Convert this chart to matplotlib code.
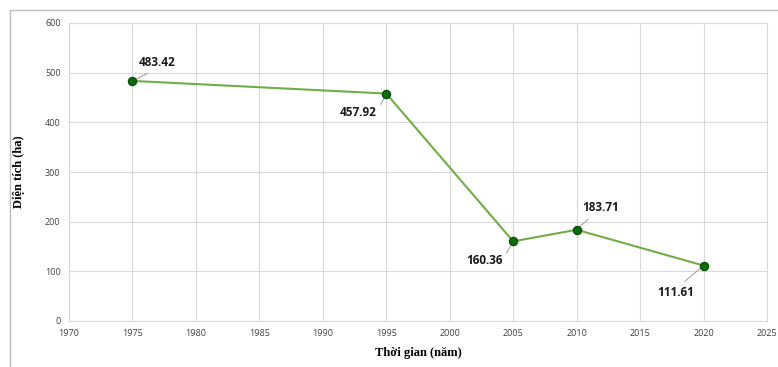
import matplotlib
matplotlib.use("Agg")
import matplotlib.pyplot as plt
from matplotlib.patches import Rectangle

years = [1975, 1995, 2005, 2010, 2020]
areas = [483.42, 457.92, 160.36, 183.71, 111.61]
labels = ["483.42", "457.92", "160.36", "183.71", "111.61"]
offsets = [(25, 18), (-28, -19), (-29, -19), (24, 22), (-28, -27)]
relpos = [(0.45, 0.0), (1.0, 0.5), (1.0, 0.5), (0.3, 0.0), (0.6, 1.0)]
xticks = list(range(1970, 2030, 5))
yticks = list(range(0, 700, 100))

fig = plt.figure(figsize=(7.78, 3.67), dpi=100)
fig.patches.append(Rectangle((10/778, -0.1), 2, 1.1 - 10/367, transform=fig.transFigure,
                             fill=False, edgecolor="#bfbfbf", linewidth=1))
ax = fig.add_axes([69/778, 46/367, (767-69)/778, (321-23)/367])
ax.plot(years, areas, color="#70ad47", linewidth=1.5, zorder=3)
ax.scatter(years, areas, s=34, color="#0e6b0e", edgecolor="#0a500a", zorder=4)
for x, y, t, (dx, dy), rp in zip(years, areas, labels, offsets, relpos):
    ax.annotate(t, xy=(x, y), xytext=(dx, dy), textcoords="offset pixels",
                ha="center", va="center", fontsize=8.5, fontweight="bold",
                family="Open Sans", color="#1a1a1a",
                arrowprops=dict(arrowstyle="-", color="#a6a6a6", lw=0.8,
                                shrinkA=2, shrinkB=2, relpos=rp))
ax.set_xlim(1970, 2025)
ax.set_ylim(0, 600)
ax.set_xticks(xticks)
ax.set_yticks(yticks)
ax.grid(True, color="#d9d9d9", linewidth=0.8)
ax.set_axisbelow(True)
for s in ax.spines.values():
    s.set_color("#d9d9d9")
ax.tick_params(length=0, labelsize=6.5, colors="#404040", pad=6)
for lab in ax.get_xticklabels() + ax.get_yticklabels():
    lab.set_family("Open Sans")
ax.set_xlabel("Thời gian (năm)", family="Liberation Serif", fontweight="bold", fontsize=9, labelpad=6)
ax.set_ylabel("Diện tích (ha)", family="Liberation Serif", fontweight="bold", fontsize=9, labelpad=14)
fig.savefig("out.png", dpi=100)
